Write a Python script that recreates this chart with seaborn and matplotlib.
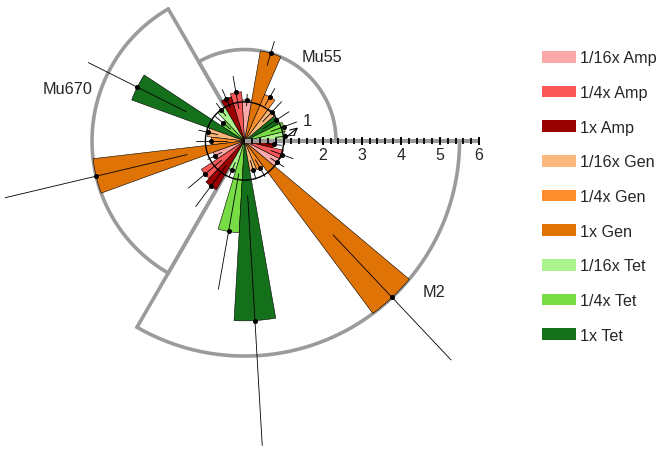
import numpy as np
import pandas as pd
import matplotlib
matplotlib.use("Agg")
import matplotlib.pyplot as plt
import seaborn as sns
from matplotlib.patches import Patch

# ---------------- data ----------------
groups = ["Mu55", "Mu670", "M2"]
group_start_deg = [0, 120, 240]

# order of bars inside each 120-degree sector (counter-clockwise)
conditions = ["1/16x Tet", "1/4x Tet", "1x Tet",
              "1/16x Gen", "1/4x Gen", "1x Gen",
              "1/16x Amp", "1/4x Amp", "1x Amp"]

mu55_vals = [1.05, 1.07, 0.96, 1.03, 1.30, 2.34, 1.05, 1.26, 1.18]
mu55_err = [0.25, 0.35, 0.40, 0.35, 0.25, 0.32, 0.15, 0.42, 0.25]
mu670_vals = [1.00, 0.72, 3.07, 0.95, 0.85, 3.90, 0.85, 1.32, 1.44]
mu670_err = [0.20, 0.25, 1.40, 0.25, 0.40, 2.39, 0.20, 0.55, 0.65]
m2_vals = [0.80, 2.35, 4.60, 0.77, 0.80, 5.50, 1.00, 1.02, 0.75]
m2_err = [0.20, 1.50, 3.20, 0.25, 0.25, 2.20, 0.20, 0.30, 0.20]

legend_order = ["1/16x Amp", "1/4x Amp", "1x Amp",
                "1/16x Gen", "1/4x Gen", "1x Gen",
                "1/16x Tet", "1/4x Tet", "1x Tet"]
legend_colors = ["#FBA8A8", "#F95757", "#990000",
                 "#FBB87C", "#FB8E2A", "#E07306",
                 "#ABF38C", "#78DC45", "#15701C"]

axis_tick_labels = [2, 3, 4, 5, 6]

# ---------------- table ----------------
vals = {"Mu55": mu55_vals, "Mu670": mu670_vals, "M2": m2_vals}
errs = {"Mu55": mu55_err, "Mu670": mu670_err, "M2": m2_err}
rows = []
for g, s in zip(groups, group_start_deg):
    for i, c in enumerate(conditions):
        rows.append(dict(group=g, cond=c, start=s, idx=i,
                         value=vals[g][i], err=errs[g][i]))
df = pd.DataFrame(rows)

sns.set_style("white")
plt.rcParams['font.family'] = ['Liberation Sans', 'DejaVu Sans']
palette = dict(zip(legend_order, sns.color_palette(legend_colors)))

W, H = 660, 452
fig = plt.figure(figsize=(W / 100, H / 100), dpi=100)
fig.patch.set_facecolor("white")

cx, cy = 244.5, 142.0      # centre in px (from top)
ppu = 39.1                 # px per unit
rmax = 8.3
R = rmax * ppu
ax = fig.add_axes([(cx - R) / W, (H - cy - R) / H, 2 * R / W, 2 * R / H],
                  projection="polar")
ax.set_ylim(0, rmax)
ax.set_axis_off()

sector = 120.0
bw = sector / len(conditions)
grey = "#9B9B9B"

# sector outlines
for g, s in zip(groups, group_start_deg):
    rg = max(vals[g])
    th = np.deg2rad(np.linspace(s, s + sector, 200))
    ax.plot(th, np.full_like(th, rg), color=grey, lw=2.6, zorder=2,
            solid_capstyle="round")
    for a in (s, s + sector):
        ax.plot([np.deg2rad(a)] * 2, [0, rg], color=grey, lw=2.6, zorder=2,
                solid_capstyle="round")

# bars
theta = np.deg2rad(df["start"] + (df["idx"] + 0.5) * bw)
ax.bar(theta, df["value"], width=np.deg2rad(bw), bottom=0,
       color=[palette[c] for c in df["cond"]], edgecolor="black",
       linewidth=0.4, zorder=3)

# reference circle at 1
tc = np.linspace(0, 2 * np.pi, 400)
ax.plot(tc, np.ones_like(tc), color="black", lw=1.0, zorder=4)

# error lines and dots
for t, v, e in zip(theta, df["value"], df["err"]):
    ax.plot([t, t], [max(v - e, 0), v + e], color="black", lw=0.6, zorder=5)
ax.plot(theta, df["value"], "o", ms=2.6, color="black", zorder=6)

# radial axis
ax.plot([0, 0], [0, 6], color=grey, lw=3, zorder=5, solid_capstyle="butt")
minor = np.round(np.arange(0.2, 6.01, 0.2), 2)
ax.plot(np.zeros_like(minor), minor, ls="none", marker="|", ms=4, mew=1.3,
        color="black", zorder=6)
major = np.arange(1, 7)
ax.plot(np.zeros_like(major, dtype=float), major, ls="none", marker="|",
        ms=6, mew=1.3, color="black", zorder=6)
for k in axis_tick_labels:
    ax.annotate(str(k), xy=(0, k), xytext=(0, -10), textcoords="offset points",
                ha="center", va="center", fontsize=11.5)

# "1" label with arrow
ax.annotate("1", xy=(np.deg2rad(3), 1.02), xytext=(307 / W, 1 - 121 / H),
            textcoords="figure fraction", ha="center", va="center",
            fontsize=12,
            arrowprops=dict(arrowstyle="<-", color="black", lw=0.8,
                            shrinkA=1, shrinkB=0))

# group labels
def ftxt(x, y, s, **kw):
    fig.text(x / W, 1 - y / H, s, fontsize=11.7, va="center", **kw)

ftxt(302, 57, "Mu55")
ftxt(43, 90, "Mu670")
ftxt(423, 293, "M2")

# legend
handles = [Patch(facecolor=palette[c], edgecolor="none") for c in legend_order]
fig.legend(handles, legend_order, loc="upper left",
           bbox_to_anchor=(542 / W, 1 - 51.5 / H), frameon=False,
           fontsize=11.6, handlelength=2.1, handleheight=0.75,
           handletextpad=0.25, labelspacing=1.22, borderpad=0,
           borderaxespad=0)

fig.savefig("out.png", dpi=100, facecolor="white")
